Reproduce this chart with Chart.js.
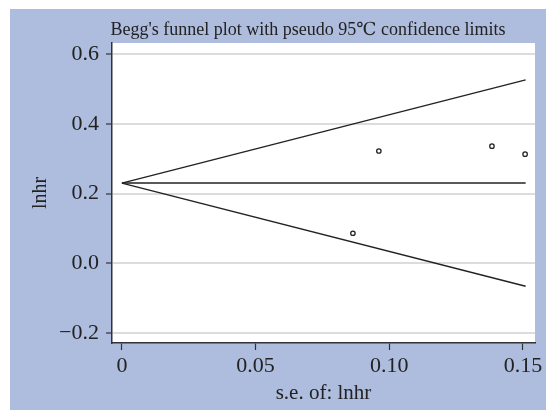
<!DOCTYPE html>
<html>
<head>
<meta charset="utf-8">
<script src="https://cdn.jsdelivr.net/npm/chart.js@4"></script>
<style>
  body { margin: 0; background: #fff; }
  #wrap { position: absolute; left: 10px; top: 9px; width: 536px; height: 401px; background: #aebcde; }
</style>
</head>
<body>
<div id="wrap"><canvas id="myChart" width="536" height="401"></canvas></div>
<script>
  // study points (s.e. vs lnhr)
  const studySE = [0.0864, 0.0961, 0.1384, 0.1508];
  const studyLnhr = [0.086, 0.322, 0.336, 0.313];

  // pseudo 95% limits and pooled line
  const limitSE = [0, 0.151];
  const upperLimit = [0.23, 0.526];
  const lowerLimit = [0.23, -0.066];
  const pooledLine = [0.23, 0.23];

  const xTicks = [0, 0.05, 0.10, 0.15];
  const xTickLabels = ['0', '0.05', '0.10', '0.15'];
  const yTicks = [-0.2, 0, 0.2, 0.4, 0.6];
  const yTickLabels = ['\u22120.2', '0.0', '0.2', '0.4', '0.6'];

  const serif = "'Liberation Serif', 'DejaVu Serif', serif";
  Chart.defaults.font.family = serif;
  Chart.defaults.color = '#222';

  const toPoints = (xs, ys) => xs.map((x, i) => ({ x: x, y: ys[i] }));
  const lineStyle = { showLine: true, pointRadius: 0, borderColor: '#222', borderWidth: 1.4, fill: false };

  // white plot area + title text
  const stataLook = {
    id: 'stataLook',
    beforeDraw(chart) {
      const { ctx, chartArea: a } = chart;
      ctx.save();
      ctx.fillStyle = '#fff';
      ctx.fillRect(a.left, a.top, a.right - a.left, a.bottom - a.top);
      ctx.restore();
    },
    afterDraw(chart) {
      const ctx = chart.ctx;
      ctx.save();
      ctx.font = '18px ' + serif;
      ctx.fillStyle = '#222';
      ctx.textAlign = 'center';
      ctx.textBaseline = 'middle';
      ctx.fillText("Begg's funnel plot with pseudo 95\u2103 confidence limits", 298, 21);
      ctx.restore();
    }
  };

  const ctx = document.getElementById('myChart').getContext('2d');
  const myChart = new Chart(ctx, {
    type: 'scatter',
    data: {
      datasets: [
        Object.assign({ data: toPoints(limitSE, upperLimit) }, lineStyle),
        Object.assign({ data: toPoints(limitSE, lowerLimit) }, lineStyle),
        Object.assign({ data: toPoints(limitSE, pooledLine) }, lineStyle),
        {
          data: toPoints(studySE, studyLnhr),
          pointRadius: 2.2,
          borderWidth: 1.3,
          borderColor: '#222',
          backgroundColor: '#fff'
        }
      ]
    },
    options: {
      responsive: false,
      animation: false,
      layout: { padding: { top: 34, right: 11, left: 0, bottom: 0 } },
      plugins: {
        legend: { display: false },
        tooltip: { enabled: false }
      },
      scales: {
        x: {
          type: 'linear',
          min: -0.0037,
          max: 0.1545,
          afterBuildTicks: s => { s.ticks = xTicks.map(v => ({ value: v })); },
          afterFit: s => { s.height = 67; },
          ticks: {
            callback: v => xTickLabels[xTicks.indexOf(v)],
            font: { size: 22 },
            color: '#222',
            padding: 3,
            maxRotation: 0,
            autoSkip: false
          },
          grid: { drawOnChartArea: false, tickLength: 7, tickColor: '#333', tickWidth: 1.2 },
          border: { color: '#333', width: 1.5 },
          title: { display: true, text: 's.e. of: lnhr', font: { size: 21 }, color: '#222', padding: { top: 0, bottom: 4 } }
        },
        y: {
          min: -0.229,
          max: 0.632,
          afterBuildTicks: s => { s.ticks = yTicks.map(v => ({ value: v })); },
          afterFit: s => { s.width = 102; },
          ticks: {
            callback: v => yTickLabels[yTicks.indexOf(v)],
            font: { size: 22 },
            color: '#222',
            padding: 7,
            autoSkip: false
          },
          grid: { color: '#dcdcdc', lineWidth: 2, tickLength: 6, tickColor: '#333', tickWidth: 1.2 },
          border: { color: '#333', width: 1.5 },
          title: { display: true, text: 'lnhr', font: { size: 20 }, color: '#222', padding: { top: 19, bottom: 0 } }
        }
      }
    },
    plugins: [stataLook]
  });
</script>
</body>
</html>
